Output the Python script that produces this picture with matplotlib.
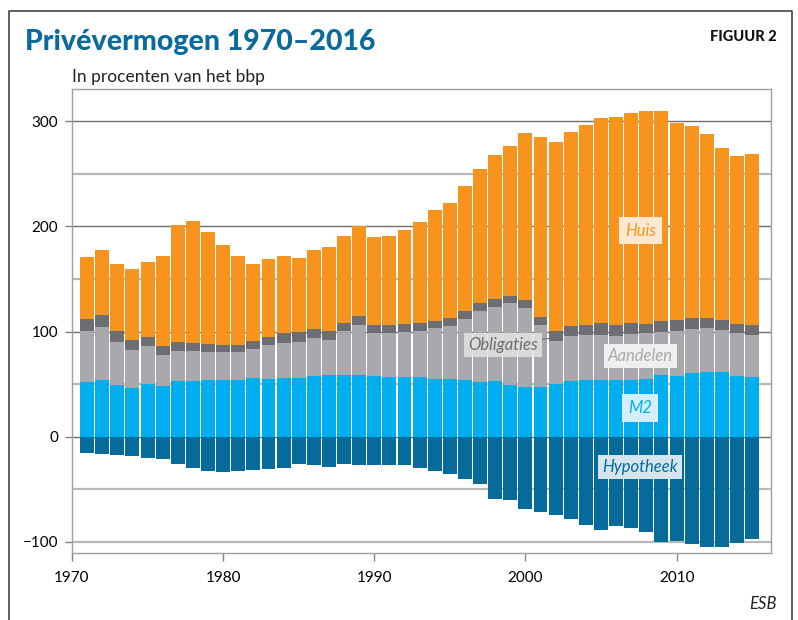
import numpy as np
import matplotlib
matplotlib.use('Agg')
import matplotlib.pyplot as plt
from matplotlib.lines import Line2D

plt.rcParams['font.family'] = ['Lato', 'DejaVu Sans']

years = list(range(1971, 2016))

# segment values, % of GDP (stacked from 0 upward: M2, Aandelen, Obligaties, Huis)
m2 = [52, 54, 49, 46, 50, 48, 53, 53, 54, 54, 54, 56, 55, 56, 56, 57.5, 58.5, 58.5,
      58.5, 57.5, 57, 57, 57, 55, 55, 54, 52, 53, 49, 47, 47, 50, 53, 54, 54, 54, 54,
      55, 58.5, 57.5, 60.5, 61.5, 61.5, 57.5, 57]
aandelen = [48.5, 50, 41, 36.5, 36, 30, 28.5, 28.5, 26.5, 26.5, 26.5, 27.5, 32, 33, 34,
            36.5, 33.5, 42, 47.5, 41, 41.5, 42.5, 43.5, 48.5, 50, 58, 67.5, 70.5, 78,
            75.5, 59, 41, 43, 42.5, 42.5, 42, 43.5, 43.5, 41, 43, 42, 42, 40, 41, 39.5]
obligaties = [11.5, 12, 10.5, 9.5, 9, 8, 8.5, 7.5, 7.5, 6.5, 6.5, 7.5, 8, 9.5, 9.5, 8.5,
              8.5, 7.5, 9, 7.5, 7.5, 7.5, 7.5, 6.5, 8, 7.5, 7.5, 7.5, 7, 7.5, 8, 9.5, 9,
              9.5, 11.5, 10, 10.5, 8.5, 10.5, 10.5, 10.5, 9.5, 9.5, 8.5, 9.5]
huis = [59, 61.5, 63.5, 67.5, 71, 86, 111, 116, 107, 95, 85, 73, 74, 73.5, 70.5, 75, 80,
        83, 85.5, 84, 85, 89.5, 96, 105.5, 109, 119, 127.5, 137, 142.5, 159, 171, 180,
        185, 190.5, 195, 198, 200, 203, 200, 187.5, 182.5, 175, 163.5, 160, 163]
hypotheek = [-15.5, -16.5, -17.5, -18.5, -20, -21, -26, -30, -32.5, -33.5, -32.5, -31.5,
             -31, -30, -26, -27, -29, -26, -27, -27, -27, -27, -30, -32.5, -35.5, -40,
             -45, -59, -60, -69, -71.5, -74.5, -78, -84, -89, -85, -87, -90.5, -100,
             -99.5, -102, -105, -105, -101, -97.5]

c_huis = '#f7941d'
c_obl = '#6d6e71'
c_aand = '#a7a9ac'
c_m2 = '#00adef'
c_hyp = '#046b9b'
c_title = '#0a6a9e'

fig = plt.figure(figsize=(7.98, 6.2), dpi=100)
ax = fig.add_axes([0.0902, 0.1081, 0.876, 0.7484])

x = np.array(years)
w = 0.92
b = np.zeros(len(years))
for vals, col in [(m2, c_m2), (aandelen, c_aand), (obligaties, c_obl), (huis, c_huis)]:
    ax.bar(x, vals, w, bottom=b, color=col, linewidth=0, zorder=3)
    b = b + np.array(vals)
ax.bar(x, hypotheek, w, color=c_hyp, linewidth=0, zorder=3)

ax.set_xlim(1970, 2016.25)
ax.set_ylim(-110.6, 330.7)

# gridlines
for v in [300, 200, 100, 0]:
    ax.axhline(v, color='#707072', lw=1.0, zorder=1)
for v in [250, 150, 50, -50, -100]:
    ax.axhline(v, color='#b8b8ba', lw=1.6, zorder=1)

ax.set_yticks([-100, 0, 100, 200, 300])
ax.set_yticklabels(['\u2212100', '0', '100', '200', '300'])
ax.set_xticks([1970, 1980, 1990, 2000, 2010])
ax.tick_params(axis='y', length=5, width=1, color='#808082', pad=5, labelsize=11)
ax.tick_params(axis='x', length=6, width=1, color='#808082', pad=7, labelsize=11)
for s in ax.spines.values():
    s.set_color('#a0a0a2')
    s.set_linewidth(1.0)

# series labels
lab = dict(fontsize=12, style='italic', ha='center', va='center', zorder=5)
ax.text(2007.6, 196, 'Huis', color=c_huis,
        bbox=dict(boxstyle='square,pad=0.35', fc='#fde9d2', ec='none'), **lab)
ax.text(2007.6, 77, 'Aandelen', color=c_aand,
        bbox=dict(boxstyle='square,pad=0.25', fc='#efeff0', ec='none'), **lab)
ax.text(2007.6, 27.5, 'M2', color=c_m2,
        bbox=dict(boxstyle='square,pad=0.35', fc='#d4effb', ec='none'), **lab)
ax.text(2007.6, -29, 'Hypotheek', color=c_hyp,
        bbox=dict(boxstyle='square,pad=0.25', fc='#d5e5ee', ec='none'), **lab)
ax.annotate('Obligaties', xy=(2001.8, 94), xytext=(1998.5, 87.5), color=c_obl,
            arrowprops=dict(arrowstyle='-', color=c_obl, lw=0.8, shrinkA=0, shrinkB=0),
            bbox=dict(boxstyle='square,pad=0.25', fc='#e2e2e3', ec='none', alpha=0.85),
            **lab)

# header and footer
fig.text(25 / 798, 1 - 42 / 620, 'Privévermogen 1970–2016', color=c_title,
         fontsize=20.5, fontweight='black', va='center', ha='left')
fig.text(777 / 798, 1 - 37 / 620, 'FIGUUR 2', color='#111111', fontsize=10.5,
         fontweight='black', va='center', ha='right')
fig.text(72 / 798, 1 - 77 / 620, 'In procenten van het bbp', color='#222222',
         fontsize=12.5, va='center', ha='left')
fig.text(777 / 798, 1 - 604 / 620, 'ESB', color='#222222', fontsize=12,
         style='italic', va='center', ha='right')

# outer frame
xs = [9 / 798, 9 / 798, 792 / 798, 792 / 798]
ys = [0, 1 - 11 / 620, 1 - 11 / 620, 0]
fig.add_artist(Line2D(xs, ys, transform=fig.transFigure, color='#444444', lw=1.2))

fig.savefig('out.png', dpi=100)
